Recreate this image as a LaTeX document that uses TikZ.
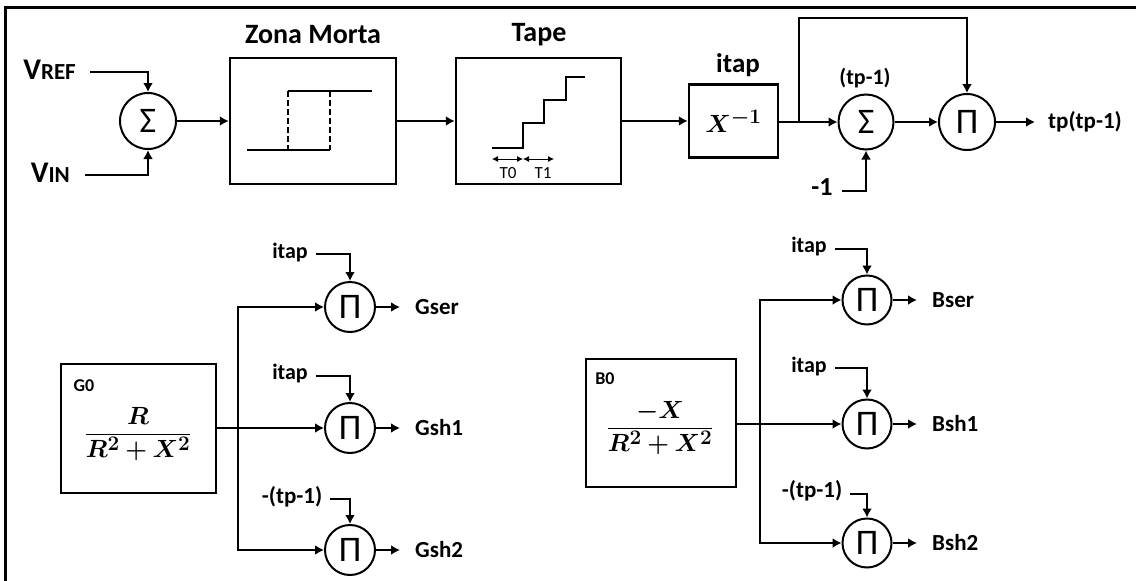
\documentclass[tikz,border=0pt]{standalone}
\usepackage{bm}
\usepackage{fontspec}
\setmainfont{Carlito}
\usetikzlibrary{arrows.meta}
\newcommand{\fsz}[1]{\fontsize{#1}{#1}\selectfont}
\tikzset{
  conn/.style={line width=2pt,-{Latex[length=9pt,width=10pt]}},
  wire/.style={line width=2pt},
  thinarr/.style={line width=0.8pt,{Latex[length=6pt,width=6pt]}-{Latex[length=6pt,width=6pt]}},
  blk/.style={draw,line width=2.5pt,rectangle,inner sep=0pt},
  opc/.style={draw,circle,line width=2pt,inner sep=0pt,font=\fsz{36}},
  lbl/.style={font=\bfseries\fsz{23},inner sep=0pt},
  ttl/.style={font=\bfseries\fsz{28},inner sep=0pt},
  drawline/.style={line width=2pt},
}
\begin{document}
\begin{tikzpicture}[x=1pt,y=-1pt]
\useasboundingbox (0,0) rectangle (1136,581);
% frame
\draw[line width=3pt] (5,581) -- (5,7) -- (1136,7);

% ---------- top row ----------
\node[lbl,anchor=east] (vref) at (76,70) {\fsz{30}V\fsz{23}REF};
\node[lbl,anchor=east] (vin) at (70,173) {\fsz{30}V\fsz{23}IN};
\node[opc,minimum size=56pt] (s1) at (148,121) {Σ};
\draw[conn] ([xshift=14pt,yshift=-2pt]vref.east) -| (s1.north);
\draw[conn] ([xshift=15pt,yshift=-2pt]vin.east) -| (s1.south);

\node[blk,minimum width=166pt,minimum height=126pt] (zm) at (313,121) {};
\node[ttl] (zmt) at (313,35) {Zona Morta};
\draw[drawline] (247,150) -- (330,150);
\draw[drawline] (288,91) -- (372,91);
\draw[drawline,dash pattern=on 6pt off 3pt] (288,91) -- (288,150);
\draw[drawline,dash pattern=on 6pt off 3pt] (330,91) -- (330,150);

\node[blk,minimum width=165pt,minimum height=126pt] (tape) at (538.5,121) {};
\node[ttl] (tapet) at (539,35) {Tape};
\draw[drawline] (492,148) -- (523,148) -- (523,123) -- (544,123) -- (544,100) -- (566,100) -- (566,77) -- (585,77);
\coordinate (ta) at (492,159);
\coordinate (tb) at (523,159);
\coordinate (tc) at (554,159);
\draw[thinarr] (ta) -- (tb);
\draw[thinarr] (tb) -- (tc);
\node[font=\fsz{17},inner sep=0pt] (t0) at (508,173) {T0};
\node[font=\fsz{17},inner sep=0pt] (t1) at (543,173) {T1};

\node[blk,minimum width=89pt,minimum height=73pt,font=\fsz{28}] (xinv) at (733.5,121) {$\bm{X}^{\bm{-1}}$};
\node[lbl,font=\bfseries\fsz{27}] (itap0) at (738,65) {itap};

\node[opc,minimum size=55pt] (s2) at (866,122) {Σ};
\node[opc,minimum size=56pt] (p0) at (967,122) {Π};
\node[lbl,font=\bfseries\fsz{22}] (tpm) at (865,78) {(tp-1)};
\node[lbl,font=\bfseries\fsz{26}] (m1) at (822,187) {-1};
\node[lbl,font=\bfseries\fsz{23},anchor=west] (out) at (1048,122) {tp(tp-1)};

\draw[conn] (s1) -- (zm);
\draw[conn] (zm) -- (tape);
\draw[conn] (tape) -- (xinv);
\draw[conn] (xinv.east |- s2) -- (s2);
\coordinate (br0) at (799,122);
\draw[conn] (br0) -- (799,18) -| (p0.north);
\draw[conn] ([xshift=9pt,yshift=-4pt]m1.east) -| (s2.south);
\draw[conn] (s2) -- (p0);
\draw[conn] (p0) -- ([xshift=-13pt]out.west);

% ---------- bottom left ----------
\node[blk,minimum width=155pt,minimum height=129pt] (g0) at (138.5,428.5) {};
\node[font=\bfseries\fsz{18},inner sep=0pt] (g0l) at (84,386) {G0};
\node[inner sep=0pt,font=\fsz{28}] (g0f) at (138,434) {$\displaystyle\frac{\bm{R}}{\bm{R}^{\bm{2}}\bm{+}\bm{X}^{\bm{2}}}$};
\node[opc,minimum size=50pt] (gp1) at (350,307) {Π};
\node[opc,minimum size=50pt] (gp2) at (350,428) {Π};
\node[opc,minimum size=50pt] (gp3) at (350,550) {Π};
\coordinate (gbr) at (238,428);
\draw[wire] (g0.east |- gbr) -- (gbr);
\draw[conn] (gbr) -- (gp2);
\draw[conn] (gbr) |- (gp1);
\draw[conn] (gbr) |- (gp3);
\node[lbl,font=\bfseries\fsz{22}] (gi1) at (290,253) {itap};
\node[lbl,font=\bfseries\fsz{22}] (gi2) at (290,374) {itap};
\node[lbl] (gi3) at (292,497) {-(tp-1)};
\draw[conn] ([xshift=8pt,yshift=-1pt]gi1.east) -| (gp1.north);
\draw[conn] ([xshift=8pt,yshift=-2pt]gi2.east) -| (gp2.north);
\draw[conn] ([xshift=8pt,yshift=-2pt]gi3.east) -| (gp3.north);
\node[lbl,anchor=west] (gser) at (415,307) {Gser};
\node[lbl,anchor=west] (gsh1) at (415,428) {Gsh1};
\node[lbl,anchor=west] (gsh2) at (415,550) {Gsh2};
\draw[conn] (gp1) -- ([xshift=-15pt]gser.west);
\draw[conn] (gp2) -- ([xshift=-15pt]gsh1.west);
\draw[conn] (gp3) -- ([xshift=-15pt]gsh2.west);

% ---------- bottom right ----------
\node[blk,minimum width=150pt,minimum height=128pt] (b0) at (661,423) {};
\node[font=\bfseries\fsz{18},inner sep=0pt] (b0l) at (605,379) {B0};
\node[inner sep=0pt,font=\fsz{28}] (b0f) at (660,428) {$\displaystyle\frac{\bm{-X}}{\bm{R}^{\bm{2}}\bm{+}\bm{X}^{\bm{2}}}$};
\node[opc,minimum size=49pt] (bp1) at (867,300) {Π};
\node[opc,minimum size=49pt] (bp2) at (867,424) {Π};
\node[opc,minimum size=49pt] (bp3) at (867,543) {Π};
\coordinate (bbr) at (760,424);
\draw[wire] (b0.east |- bbr) -- (bbr);
\draw[conn] (bbr) -- (bp2);
\draw[conn] (bbr) |- (bp1);
\draw[conn] (bbr) |- (bp3);
\node[lbl,font=\bfseries\fsz{22}] (bi1) at (809,247) {itap};
\node[lbl,font=\bfseries\fsz{22}] (bi2) at (809,367) {itap};
\node[lbl] (bi3) at (812,491) {-(tp-1)};
\draw[conn] ([xshift=8pt,yshift=-2pt]bi1.east) -| (bp1.north);
\draw[conn] ([xshift=8pt,yshift=-1pt]bi2.east) -| (bp2.north);
\draw[conn] ([xshift=8pt,yshift=-3pt]bi3.east) -| (bp3.north);
\node[lbl,anchor=west] (bser) at (932,300) {Bser};
\node[lbl,anchor=west] (bsh1) at (932,424) {Bsh1};
\node[lbl,anchor=west] (bsh2) at (932,543) {Bsh2};
\draw[conn] (bp1) -- ([xshift=-15pt]bser.west);
\draw[conn] (bp2) -- ([xshift=-15pt]bsh1.west);
\draw[conn] (bp3) -- ([xshift=-15pt]bsh2.west);
\end{tikzpicture}
\end{document}
